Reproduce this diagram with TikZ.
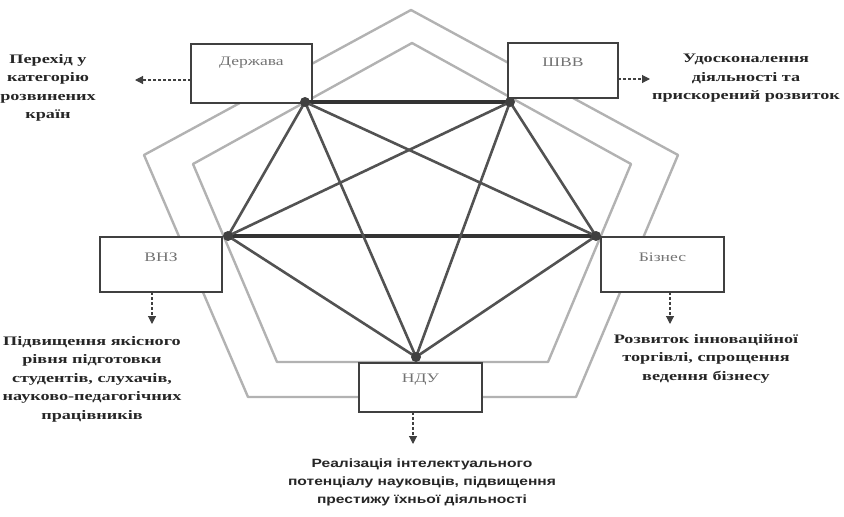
\documentclass[tikz,border=0pt]{standalone}
\usepackage{fontspec}
\setmainfont{Liberation Serif}
\newfontfamily\sansf{Liberation Sans}
\usetikzlibrary{arrows.meta}
\newcommand{\sx}[1]{\scalebox{1.4}[1]{#1}}
\newcommand{\sxs}[1]{\scalebox{1.3}[1]{#1}}
\newcommand{\sxl}[1]{\scalebox{1.35}[1]{#1}}
\begin{document}
\begin{tikzpicture}[x=1pt,y=-1pt,
  pent/.style={draw=black!30, line width=2.4pt, line join=round},
  link/.style={draw=black!68, line width=2.6pt},
  hlink/.style={draw=black!80, line width=3.2pt},
  boxn/.style={draw=black!75, line width=1.2pt, fill=white, inner sep=0pt},
  lbl/.style={text=black!55, inner sep=0pt, font=\fontsize{13}{15}\selectfont},
  note/.style={align=center, text=black!85, inner sep=0pt, anchor=north, font=\bfseries\fontsize{13}{18.5}\selectfont},
  snote/.style={align=center, text=black!85, inner sep=0pt, anchor=north, font=\sansf\bfseries\fontsize{12}{18}\selectfont},
  dasharr/.style={draw=black!75, line width=1.1pt, dash pattern=on 3pt off 2pt, -{Triangle[length=8pt,width=8pt]}},
  dot/.style={circle, fill=black!75, inner sep=0pt, minimum size=10pt}
]
\useasboundingbox (0,0) rectangle (844,517);

% pentagons
\draw[pent] (411,10) -- (678,155) -- (576,397) -- (248,397) -- (144,155) -- cycle;
\draw[pent] (412,43) -- (631,164) -- (548,362) -- (277,362) -- (193,164) -- cycle;

% boxes
\node[boxn, minimum width=121pt, minimum height=59pt] (bd) at (251.5,73.5) {};
\node[boxn, minimum width=110pt, minimum height=55pt] (bs) at (563,70.5) {};
\node[boxn, minimum width=122pt, minimum height=55pt] (bv) at (161,264.5) {};
\node[boxn, minimum width=123pt, minimum height=55pt] (bb) at (662.5,264.5) {};
\node[boxn, minimum width=123pt, minimum height=49pt] (bn) at (420.5,387.5) {};

\node[lbl] (ld) at (251.5,63) {\sxl{Держава}};
\node[lbl] (ls) at (563,62) {\sxl{ШВВ}};
\node[lbl] (lv) at (161,257) {\sxl{ВНЗ}};
\node[lbl] (lb) at (662.5,257) {\sxl{Бізнес}};
\node[lbl] (ln) at (420.5,380) {\sxl{НДУ}};

% vertices
\coordinate (D) at (305,102);
\coordinate (S) at (510,102);
\coordinate (V) at (228,236);
\coordinate (B) at (596,236);
\coordinate (N) at (416,357);

\draw[hlink] (D) -- (S);
\draw[hlink] (V) -- (B);
\draw[link] (D) -- (V);
\draw[link] (D) -- (B);
\draw[link] (D) -- (N);
\draw[link] (S) -- (V);
\draw[link] (S) -- (B);
\draw[link] (S) -- (N);
\draw[link] (V) -- (N);
\draw[link] (B) -- (N);

\node[dot] (dD) at (D) {};
\node[dot] (dS) at (S) {};
\node[dot] (dV) at (V) {};
\node[dot] (dB) at (B) {};
\node[dot] (dN) at (N) {};

% arrows
\coordinate (a1s) at (191,80);  \coordinate (a1e) at (135,80);
\coordinate (a2s) at (618,79);  \coordinate (a2e) at (650,79);
\coordinate (a3s) at (152,292); \coordinate (a3e) at (152,324);
\coordinate (a4s) at (670,292); \coordinate (a4e) at (670,324);
\coordinate (a5s) at (413,412); \coordinate (a5e) at (413,444);
\draw[dasharr] (a1s) -- (a1e);
\draw[dasharr] (a2s) -- (a2e);
\draw[dasharr] (a3s) -- (a3e);
\draw[dasharr] (a4s) -- (a4e);
\draw[dasharr] (a5s) -- (a5e);

% notes
\node[note] (t1) at (48,54) {\sx{Перехід у}\\\sx{категорію}\\\sx{розвинених}\\\sx{країн}};
\node[note] (t2) at (746,54) {\sx{Удосконалення}\\\sx{діяльності та}\\\sx{прискорений розвиток}};
\node[note] (t3) at (92,336) {\sx{Підвищення якісного}\\\sx{рівня підготовки}\\\sx{студентів, слухачів,}\\\sx{науково-педагогічних}\\\sx{працівників}};
\node[note] (t4) at (706,334) {\sx{Розвиток інноваційної}\\\sx{торгівлі, спрощення}\\\sx{ведення бізнесу}};
\node[snote] (t5) at (422,459) {\sxs{Реалізація інтелектуального}\\\sxs{потенціалу науковців, підвищення}\\\sxs{престижу їхньої діяльності}};
\end{tikzpicture}
\end{document}
